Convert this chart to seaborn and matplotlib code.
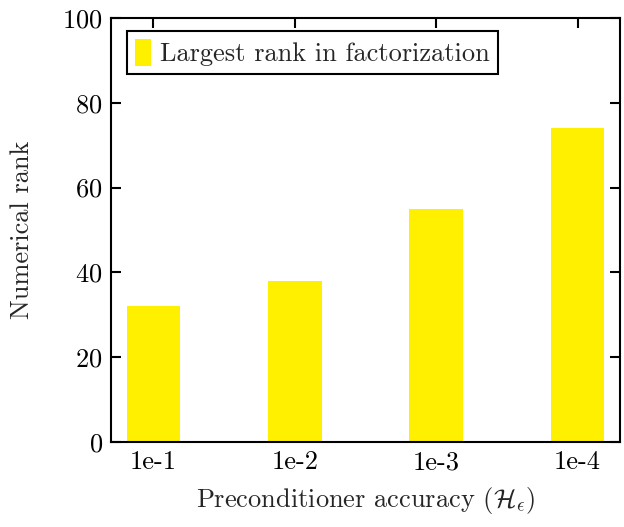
import matplotlib
matplotlib.use("Agg")
import matplotlib.pyplot as plt
import seaborn as sns
import pandas as pd

categories = ["1e-1", "1e-2", "1e-3", "1e-4"]
ranks = [32, 38, 55, 74]
series_label = "Largest rank in factorization"

sns.set_theme(style="white")
plt.rcParams["font.family"] = ["cmr10", "DejaVu Serif"]
plt.rcParams["mathtext.fontset"] = "cm"
plt.rcParams["axes.unicode_minus"] = False
plt.rcParams["axes.formatter.use_mathtext"] = True

df = pd.DataFrame({"acc": categories, "rank": ranks})

fig = plt.figure(figsize=(6.24, 5.27), dpi=100)
ax = fig.add_axes([111/624, 1 - 442/527, (620-111)/624, (442-18)/527])

sns.barplot(data=df, x="acc", y="rank", color="#FFF000", saturation=1,
            width=0.38, label=series_label, ax=ax, linewidth=0)

ax.set_xlim(-0.3, 3.3)
ax.set_ylim(0, 100)
ax.set_yticks([0, 20, 40, 60, 80, 100])
ax.set_xlabel(r"Preconditioner accuracy ($\mathcal{H}_\epsilon$)", fontsize=19, labelpad=8)
ax.set_ylabel("Numerical rank", fontsize=19, labelpad=20)

for s in ax.spines.values():
    s.set_visible(True)
    s.set_color("black")
    s.set_linewidth(1.5)

ax.tick_params(axis="both", direction="in", length=7.5, width=1.5, labelsize=19,
               top=True, right=True, bottom=True, left=True, pad=6, colors="black")

leg = ax.legend(loc="upper left", fontsize=19, frameon=True, fancybox=False,
                edgecolor="black", handlelength=0.6, handleheight=1.2,
                handletextpad=0.35, borderpad=0.3, borderaxespad=0,
                bbox_to_anchor=(16/509, 1 - 13/424))
leg.get_frame().set_linewidth(1.5)
leg.get_frame().set_alpha(1)

fig.savefig("out.png", dpi=100)
